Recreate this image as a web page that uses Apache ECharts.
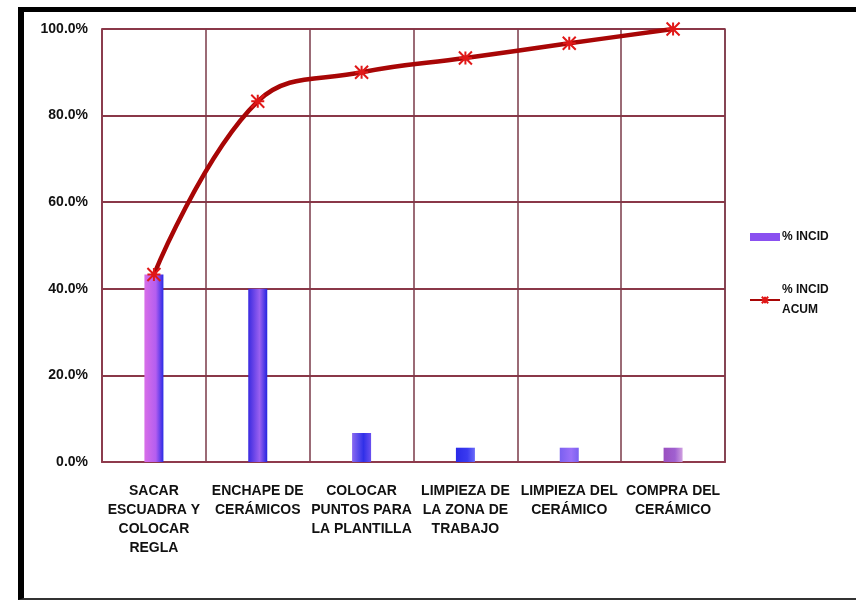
<!DOCTYPE html>
<html>
<head>
<meta charset="utf-8">
<script src="https://cdn.jsdelivr.net/npm/echarts@6/dist/echarts.min.js"></script>
<style>
  html, body { margin: 0; padding: 0; background: #fff; }
  #frame { position: absolute; left: 18px; top: 7px; width: 850px; height: 593px;
           border-left: 6px solid #000; border-top: 5px solid #000; border-bottom: 2px solid #333; box-sizing: border-box; }
  #chart { position: absolute; left: 0; top: 0; width: 856px; height: 603px; }
</style>
</head>
<body>
<div id="frame"></div>
<div id="chart"></div>
<script>
// Incident share per activity and running cumulative share (percent)
const categories = [
  'SACAR\nESCUADRA Y\nCOLOCAR\nREGLA',
  'ENCHAPE DE\nCERÁMICOS',
  'COLOCAR\nPUNTOS PARA\nLA PLANTILLA',
  'LIMPIEZA DE\nLA ZONA DE\nTRABAJO',
  'LIMPIEZA DEL\nCERÁMICO',
  'COMPRA DEL\nCERÁMICO'
];
const incid = [43.3, 40.0, 6.7, 3.3, 3.3, 3.3];
const incidAcum = [43.3, 83.3, 90.0, 93.3, 96.7, 100.0];
const yTicks = [0, 20, 40, 60, 80, 100];

const font = '"Liberation Sans", Arial, sans-serif';

function barFill(a, b, c) {
  return new echarts.graphic.LinearGradient(0, 0, 1, 0, [
    { offset: 0, color: a }, { offset: 0.6, color: b }, { offset: 1, color: c }
  ]);
}
const barColors = [
  barFill('#d86ee8', '#b45ef0', '#2a2ae6'),
  barFill('#3a2ae0', '#9a60f0', '#2424e0'),
  barFill('#8a6af0', '#3030e8', '#6a50f0'),
  barFill('#2a2ae8', '#3a3af0', '#6a6af8'),
  barFill('#7a60f0', '#9a70f8', '#7a60f0'),
  barFill('#9a50c0', '#a060d0', '#d0a0e0')
];

const chart = echarts.init(document.getElementById('chart'));
chart.setOption({
  animation: false,
  textStyle: { fontFamily: font },
  grid: { left: 102, right: 131, top: 29, bottom: 141, show: true, borderColor: '#8e3a4c', borderWidth: 1.5 },
  legend: {
    orient: 'vertical', left: 744, top: 222, itemGap: 33, itemWidth: 30, itemHeight: 8,
    textStyle: { fontFamily: font, fontSize: 12, fontWeight: 'bold', color: '#111', lineHeight: 20, padding: [0, 0, 0, -3] },
    formatter: n => n === '% INCID ACUM' ? '% INCID\nACUM' : n,
    data: [
      { name: '% INCID', icon: 'rect', itemStyle: { color: '#8a50f0' } },
      { name: '% INCID ACUM' }
    ]
  },
  xAxis: {
    type: 'category', data: categories,
    axisLine: { show: true, lineStyle: { color: '#8e3a4c', width: 2 } },
    axisTick: { show: false },
    splitLine: { show: true, lineStyle: { color: '#7a3a48', width: 1.5 } },
    axisLabel: { interval: 0, margin: 20, color: '#111', fontSize: 14, fontWeight: 'bold', lineHeight: 19, fontFamily: font }
  },
  yAxis: {
    type: 'value', min: 0, max: 100, interval: 20,
    axisLine: { show: true, lineStyle: { color: '#8e3a4c', width: 1.5 } },
    axisTick: { show: false },
    splitLine: { show: true, lineStyle: { color: '#8a3848', width: 1.8 } },
    axisLabel: {
      margin: 14, color: '#111', fontSize: 14, fontWeight: 'bold', fontFamily: font,
      customValues: yTicks,
      formatter: v => v.toFixed(1) + '%'
    }
  },
  series: [
    {
      name: '% INCID', type: 'bar', barWidth: 19,
      data: incid.map((v, i) => ({ value: v, itemStyle: { color: barColors[i] } })),
      itemStyle: { color: '#8a50f0' }
    },
    {
      name: '% INCID ACUM', type: 'line', data: incidAcum, smooth: 0.4,
      lineStyle: { color: '#a80606', width: 4.5 },
      symbol: 'path://M0,0 L10,10 M10,0 L0,10 M5,0 L5,10 M0,5 L10,5',
      symbolSize: 13,
      itemStyle: { color: '#e01818', borderColor: '#e01818', borderWidth: 2 },
      z: 5
    }
  ]
});
</script>
</body>
</html>
